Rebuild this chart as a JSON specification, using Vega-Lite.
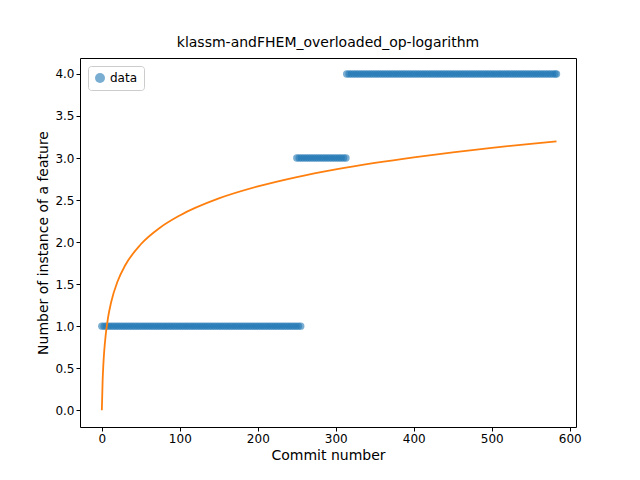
{
  "$schema": "https://vega.github.io/schema/vega-lite/v6.json",
  "width": 496,
  "height": 369,
  "autosize": {"type": "none"},
  "padding": {"left": 80, "top": 58, "right": 64, "bottom": 53},
  "background": "white",
  "title": {"text": "klassm-andFHEM_overloaded_op-logarithm", "font": "DejaVu Sans", "fontSize": 14, "fontWeight": "normal", "offset": 8},
  "config": {
    "view": {"stroke": "black", "strokeWidth": 1},
    "axis": {"grid": false, "domain": false, "tickColor": "black", "labelColor": "black", "labelFont": "DejaVu Sans", "labelFontSize": 12, "titleFont": "DejaVu Sans", "titleFontSize": 14, "titleFontWeight": "normal", "tickSize": 4}
  },
  "datasets": {
    "pts": [
      {"x":0,"y":1},{"x":3,"y":1},{"x":6,"y":1},{"x":9,"y":1},{"x":12,"y":1},{"x":15,"y":1},{"x":18,"y":1},{"x":21,"y":1},{"x":24,"y":1},{"x":27,"y":1},
      {"x":30,"y":1},{"x":33,"y":1},{"x":36,"y":1},{"x":39,"y":1},{"x":42,"y":1},{"x":45,"y":1},{"x":48,"y":1},{"x":51,"y":1},{"x":54,"y":1},{"x":57,"y":1},
      {"x":60,"y":1},{"x":63,"y":1},{"x":66,"y":1},{"x":69,"y":1},{"x":72,"y":1},{"x":75,"y":1},{"x":78,"y":1},{"x":81,"y":1},{"x":84,"y":1},{"x":87,"y":1},
      {"x":90,"y":1},{"x":93,"y":1},{"x":96,"y":1},{"x":99,"y":1},{"x":102,"y":1},{"x":105,"y":1},{"x":108,"y":1},{"x":111,"y":1},{"x":114,"y":1},{"x":117,"y":1},
      {"x":120,"y":1},{"x":123,"y":1},{"x":126,"y":1},{"x":129,"y":1},{"x":132,"y":1},{"x":135,"y":1},{"x":138,"y":1},{"x":141,"y":1},{"x":144,"y":1},{"x":147,"y":1},
      {"x":150,"y":1},{"x":153,"y":1},{"x":156,"y":1},{"x":159,"y":1},{"x":162,"y":1},{"x":165,"y":1},{"x":168,"y":1},{"x":171,"y":1},{"x":174,"y":1},{"x":177,"y":1},
      {"x":180,"y":1},{"x":183,"y":1},{"x":186,"y":1},{"x":189,"y":1},{"x":192,"y":1},{"x":195,"y":1},{"x":198,"y":1},{"x":201,"y":1},{"x":204,"y":1},{"x":207,"y":1},
      {"x":210,"y":1},{"x":213,"y":1},{"x":216,"y":1},{"x":219,"y":1},{"x":222,"y":1},{"x":225,"y":1},{"x":228,"y":1},{"x":231,"y":1},{"x":234,"y":1},{"x":237,"y":1},
      {"x":240,"y":1},{"x":243,"y":1},{"x":246,"y":1},{"x":249,"y":1},{"x":252,"y":1},{"x":255,"y":1},
      {"x":250,"y":3},{"x":253,"y":3},{"x":256,"y":3},{"x":259,"y":3},{"x":262,"y":3},{"x":265,"y":3},{"x":268,"y":3},{"x":271,"y":3},{"x":274,"y":3},{"x":277,"y":3},
      {"x":280,"y":3},{"x":283,"y":3},{"x":286,"y":3},{"x":289,"y":3},{"x":292,"y":3},{"x":295,"y":3},{"x":298,"y":3},{"x":301,"y":3},{"x":304,"y":3},{"x":307,"y":3},
      {"x":310,"y":3},{"x":313,"y":3},
      {"x":314,"y":4},{"x":317,"y":4},{"x":320,"y":4},{"x":323,"y":4},{"x":326,"y":4},{"x":329,"y":4},{"x":332,"y":4},{"x":335,"y":4},{"x":338,"y":4},{"x":341,"y":4},
      {"x":344,"y":4},{"x":347,"y":4},{"x":350,"y":4},{"x":353,"y":4},{"x":356,"y":4},{"x":359,"y":4},{"x":362,"y":4},{"x":365,"y":4},{"x":368,"y":4},{"x":371,"y":4},
      {"x":374,"y":4},{"x":377,"y":4},{"x":380,"y":4},{"x":383,"y":4},{"x":386,"y":4},{"x":389,"y":4},{"x":392,"y":4},{"x":395,"y":4},{"x":398,"y":4},{"x":401,"y":4},
      {"x":404,"y":4},{"x":407,"y":4},{"x":410,"y":4},{"x":413,"y":4},{"x":416,"y":4},{"x":419,"y":4},{"x":422,"y":4},{"x":425,"y":4},{"x":428,"y":4},{"x":431,"y":4},
      {"x":434,"y":4},{"x":437,"y":4},{"x":440,"y":4},{"x":443,"y":4},{"x":446,"y":4},{"x":449,"y":4},{"x":452,"y":4},{"x":455,"y":4},{"x":458,"y":4},{"x":461,"y":4},
      {"x":464,"y":4},{"x":467,"y":4},{"x":470,"y":4},{"x":473,"y":4},{"x":476,"y":4},{"x":479,"y":4},{"x":482,"y":4},{"x":485,"y":4},{"x":488,"y":4},{"x":491,"y":4},
      {"x":494,"y":4},{"x":497,"y":4},{"x":500,"y":4},{"x":503,"y":4},{"x":506,"y":4},{"x":509,"y":4},{"x":512,"y":4},{"x":515,"y":4},{"x":518,"y":4},{"x":521,"y":4},
      {"x":524,"y":4},{"x":527,"y":4},{"x":530,"y":4},{"x":533,"y":4},{"x":536,"y":4},{"x":539,"y":4},{"x":542,"y":4},{"x":545,"y":4},{"x":548,"y":4},{"x":551,"y":4},
      {"x":554,"y":4},{"x":557,"y":4},{"x":560,"y":4},{"x":563,"y":4},{"x":566,"y":4},{"x":569,"y":4},{"x":572,"y":4},{"x":575,"y":4},{"x":578,"y":4},{"x":581,"y":4},
      {"x":583,"y":4}
    ],
    "fit": [
      {"x":0,"y":0},{"x":1,"y":0.348},{"x":2,"y":0.551},{"x":3,"y":0.696},{"x":5,"y":0.899},{"x":8,"y":1.103},
      {"x":12,"y":1.288},{"x":20,"y":1.528},{"x":30,"y":1.724},{"x":50,"y":1.974},{"x":75,"y":2.174},{"x":100,"y":2.317},
      {"x":150,"y":2.519},{"x":200,"y":2.662},{"x":250,"y":2.774},{"x":300,"y":2.865},{"x":350,"y":2.942},{"x":400,"y":3.009},
      {"x":450,"y":3.068},{"x":500,"y":3.121},{"x":550,"y":3.169},{"x":583,"y":3.198}
    ]
  },
  "encoding": {
    "x": {"field": "x", "type": "quantitative", "title": "Commit number", "scale": {"domain": [-28, 608], "nice": false, "zero": false}, "axis": {"values": [0, 100, 200, 300, 400, 500, 600]}},
    "y": {"field": "y", "type": "quantitative", "title": "Number of instance of a feature", "scale": {"domain": [-0.2, 4.19], "nice": false}, "axis": {"values": [0, 0.5, 1, 1.5, 2, 2.5, 3, 3.5, 4], "format": ".1f"}}
  },
  "layer": [
    {
      "data": {"name": "pts"},
      "mark": {"type": "point", "shape": "circle", "filled": true, "size": 55, "opacity": 0.6},
      "encoding": {
        "color": {"datum": "data", "type": "nominal", "scale": {"range": ["#1f77b4"]},
          "legend": {"title": null, "orient": "none", "legendX": 8, "legendY": 8, "labelFont": "DejaVu Sans", "labelFontSize": 12, "strokeColor": "#cccccc", "fillColor": "white", "padding": 6, "cornerRadius": 3, "symbolOpacity": 0.6}}
      }
    },
    {
      "data": {"name": "fit"},
      "mark": {"type": "line", "color": "#ff7f0e", "strokeWidth": 1.8, "interpolate": "monotone"},
      "encoding": {}
    }
  ]
}
